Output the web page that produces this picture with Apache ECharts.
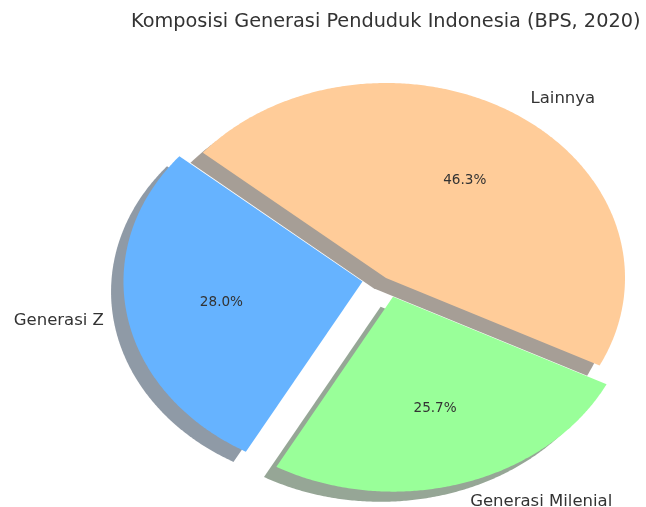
<!DOCTYPE html>
<html><head><meta charset="utf-8">
<script src="https://cdn.jsdelivr.net/npm/echarts@6/dist/echarts.min.js"></script>
<style>html,body{margin:0;padding:0;background:#fff}#c{width:646px;height:507px}</style>
</head><body><div id="c"></div>
<script>
// ---- data ----
const categories = ['Generasi Z', 'Generasi Milenial', 'Lainnya'];
const values = [28.0, 25.7, 46.3];
const colors = ['#66b3ff', '#99ff99', '#ffcc99'];
const explode = [0.1, 0.1, 0];
const titleText = 'Komposisi Generasi Penduduk Indonesia (BPS, 2020)';

// ---- layout ----
const START_DEG = 140;
const CXF = 386 / 646, CYF = 278 / 507, RXF = 239 / 646, RYF = 195 / 507;
const SHADOW_OFF = 0.052;
const FONT = 'DejaVu Sans';
const TEXT_COLOR = '#333333';

const total = values.reduce((a, b) => a + b, 0);
const startAngles = [];
(function () { let acc = START_DEG; values.forEach(v => { startAngles.push(acc); acc += v / total * 360; }); })();

function shadowCol(hex) {
  const r = parseInt(hex.slice(1, 3), 16), g = parseInt(hex.slice(3, 5), 16), b = parseInt(hex.slice(5, 7), 16);
  return 'rgba(' + Math.round(r * 0.3) + ',' + Math.round(g * 0.3) + ',' + Math.round(b * 0.3) + ',0.5)';
}

function geom(api, idx) {
  const W = api.getWidth(), H = api.getHeight();
  const rx = RXF * W, ry = RYF * H;
  const a0 = startAngles[idx];
  const span = api.value(0) / total * 360;
  const mid = (a0 + span / 2) * Math.PI / 180;
  const cx = CXF * W + explode[idx] * Math.cos(mid) * rx;
  const cy = CYF * H - explode[idx] * Math.sin(mid) * ry;
  return { W, H, rx, ry, a0, span, mid, cx, cy };
}

function wedgePoints(g, dx, dy) {
  const pts = [[g.cx + dx, g.cy + dy]];
  const n = Math.max(8, Math.ceil(g.span * 2));
  for (let i = 0; i <= n; i++) {
    const a = (g.a0 + g.span * i / n) * Math.PI / 180;
    pts.push([g.cx + dx + Math.cos(a) * g.rx, g.cy + dy - Math.sin(a) * g.ry]);
  }
  return pts;
}

const seriesData = values.map((v, i) => ({ name: categories[i], value: [v] }));

const option = {
  backgroundColor: '#ffffff',
  animation: false,
  title: {
    text: titleText,
    left: 131, top: 12, padding: 0,
    textStyle: { fontFamily: FONT, fontSize: 19.3, fontWeight: 'normal', color: TEXT_COLOR }
  },
  series: [
    {
      type: 'custom', coordinateSystem: 'none', z: 1, silent: true,
      data: seriesData,
      renderItem: function (params, api) {
        const idx = params.dataIndex;
        const g = geom(api, idx);
        return {
          type: 'polygon',
          shape: { points: wedgePoints(g, -SHADOW_OFF * g.rx, SHADOW_OFF * g.ry) },
          style: { fill: shadowCol(colors[idx]) }
        };
      }
    },
    {
      type: 'custom', coordinateSystem: 'none', z: 2,
      data: seriesData,
      renderItem: function (params, api) {
        const idx = params.dataIndex;
        const g = geom(api, idx);
        const pct = (api.value(0) / total * 100).toFixed(1) + '%';
        const cm = Math.cos(g.mid), sm = Math.sin(g.mid);
        const lx = g.cx + 1.1 * cm * g.rx, ly = g.cy - 1.1 * sm * g.ry;
        return {
          type: 'group',
          children: [
            {
              type: 'polygon',
              shape: { points: wedgePoints(g, 0, 0) },
              style: { fill: colors[idx] }
            },
            {
              type: 'text', z2: 10,
              style: {
                text: pct, x: g.cx + 0.6 * cm * g.rx, y: g.cy - 0.6 * sm * g.ry,
                align: 'center', verticalAlign: 'middle',
                fontFamily: FONT, fontSize: 13.6, fill: TEXT_COLOR
              }
            },
            {
              type: 'text', z2: 10,
              style: {
                text: categories[idx], x: lx, y: ly,
                align: cm >= 0 ? 'left' : 'right', verticalAlign: 'middle',
                fontFamily: FONT, fontSize: 16.5, fill: TEXT_COLOR
              }
            }
          ]
        };
      }
    }
  ]
};

const chart = echarts.init(document.getElementById('c'), null, { renderer: 'canvas' });
chart.setOption(option);
</script>
</body></html>
